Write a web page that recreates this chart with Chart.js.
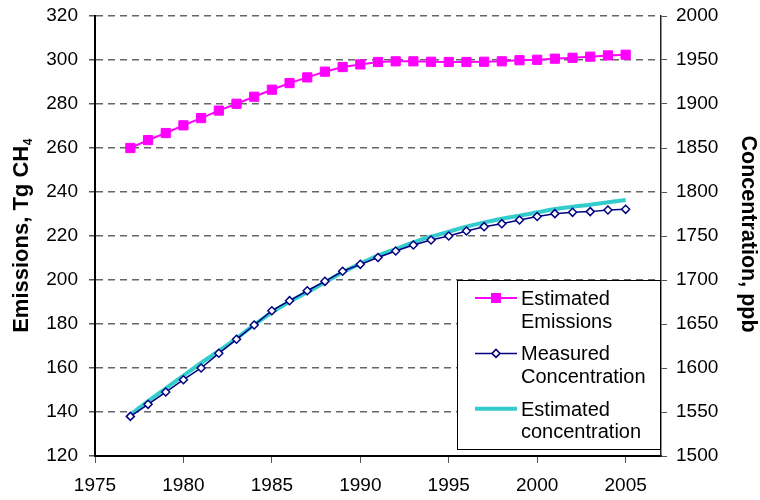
<!DOCTYPE html>
<html>
<head>
<meta charset="utf-8">
<script src="https://cdn.jsdelivr.net/npm/chart.js@4/dist/chart.umd.min.js"></script>
<style>
  html, body { margin: 0; padding: 0; background: #fff; }
  canvas { display: block; }
</style>
</head>
<body>
<canvas id="c" width="760" height="500"></canvas>
<script>
// Years with observations
const years = [1977, 1978, 1979, 1980, 1981, 1982, 1983, 1984, 1985, 1986,
               1987, 1988, 1989, 1990, 1991, 1992, 1993, 1994, 1995, 1996,
               1997, 1998, 1999, 2000, 2001, 2002, 2003, 2004, 2005];

// Tick labels on the year axis
const xTicks = [1975, 1980, 1985, 1990, 1995, 2000, 2005];

// Estimated emissions, Tg CH4 (left axis)
const emissions = [260.0, 263.6, 266.8, 270.3, 273.6, 277.0, 280.1, 283.3, 286.5, 289.5,
                   292.1, 294.7, 296.8, 298.0, 299.1, 299.4, 299.4, 299.2, 299.1, 299.1,
                   299.2, 299.4, 299.9, 300.1, 300.6, 301.0, 301.5, 302.1, 302.4];

// Measured concentration, ppb (right axis)
const measuredConc = [1545.0, 1558.7, 1572.7, 1586.7, 1600.0, 1616.7, 1632.6, 1648.9, 1665.1, 1676.5,
                      1687.8, 1698.5, 1709.9, 1717.8, 1725.6, 1733.0, 1739.8, 1745.5, 1750.0, 1755.7,
                      1760.6, 1764.0, 1768.2, 1772.2, 1775.4, 1776.9, 1777.7, 1779.5, 1780.3];

// Estimated concentration, ppb (right axis)
const estimatedConc = [1547.0, 1562.5, 1576.9, 1591.3, 1605.7, 1619.3, 1633.7, 1648.9, 1663.3, 1675.4,
                       1686.0, 1697.4, 1708.7, 1718.6, 1727.6, 1735.2, 1742.8, 1749.2, 1754.9, 1760.6,
                       1765.5, 1769.7, 1773.1, 1776.9, 1780.7, 1783.3, 1785.6, 1788.3, 1790.9];

// Text
const seriesNames = ['Estimated Emissions', 'Measured Concentration', 'Estimated concentration'];
const legendLines = [['Estimated', 'Emissions'], ['Measured', 'Concentration'], ['Estimated', 'concentration']];
const leftTitle = 'Emissions, Tg CH';
const leftTitleSub = '4';
const rightTitle = 'Concentration, ppb';

const FONT = '"Liberation Sans", Arial, Helvetica, sans-serif';
const MAGENTA = '#FF00FF';
const NAVY = '#000080';
const CYAN = '#33CCCC';

const toPoints = vals => years.map((yr, i) => ({ x: yr, y: vals[i] }));

// Axis titles and the boxed legend
const decorations = {
  id: 'decorations',
  afterDraw(chart) {
    const ctx = chart.ctx;
    const area = chart.chartArea;
    const midY = (area.top + area.bottom) / 2;

    // Left axis title with subscript
    ctx.save();
    ctx.fillStyle = '#000';
    const mainFont = 'bold 22px ' + FONT;
    const subFont = 'bold 12px ' + FONT;
    ctx.font = mainFont;
    const w1 = ctx.measureText(leftTitle).width;
    ctx.font = subFont;
    const w2 = ctx.measureText(leftTitleSub).width;
    ctx.translate(28, midY);
    ctx.rotate(-Math.PI / 2);
    ctx.textBaseline = 'alphabetic';
    ctx.textAlign = 'left';
    const start = -(w1 + w2) / 2;
    ctx.font = mainFont;
    ctx.fillText(leftTitle, start, 0);
    ctx.font = subFont;
    ctx.fillText(leftTitleSub, start + w1 + 0.5, 4);
    ctx.restore();

    // Right axis title, reading downward
    ctx.save();
    ctx.fillStyle = '#000';
    ctx.font = 'bold 21.5px ' + FONT;
    ctx.translate(742, midY - 2);
    ctx.rotate(Math.PI / 2);
    ctx.textAlign = 'center';
    ctx.textBaseline = 'alphabetic';
    ctx.fillText(rightTitle, 0, 0);
    ctx.restore();

    // Legend box
    const bx = 457.5, by = 280.5, bw = 203, bh = 169;
    ctx.save();
    ctx.fillStyle = '#fff';
    ctx.fillRect(bx, by, bw, bh);
    ctx.strokeStyle = '#000';
    ctx.lineWidth = 1;
    ctx.strokeRect(bx, by, bw, bh);

    const ds = chart.data.datasets;
    const lx1 = 475, lx2 = 517, mx = 496, tx = 521;
    ctx.font = '20px ' + FONT;
    ctx.textAlign = 'left';
    ctx.textBaseline = 'alphabetic';
    legendLines.forEach((lines, i) => {
      const base = 305 + i * 55.4;
      const ly = base - 7;
      const d = ds[i];
      ctx.strokeStyle = d.borderColor;
      ctx.lineWidth = d.borderWidth;
      ctx.beginPath();
      ctx.moveTo(lx1, ly);
      ctx.lineTo(lx2, ly);
      ctx.stroke();
      if (d.pointStyle === 'rect') {
        ctx.fillStyle = d.pointBackgroundColor;
        ctx.fillRect(mx - 5, ly - 5, 10, 10);
      } else if (d.pointStyle === 'rectRot') {
        ctx.fillStyle = d.pointBackgroundColor;
        ctx.strokeStyle = d.pointBorderColor;
        ctx.lineWidth = d.pointBorderWidth;
        ctx.beginPath();
        ctx.moveTo(mx - 4, ly);
        ctx.lineTo(mx, ly - 4);
        ctx.lineTo(mx + 4, ly);
        ctx.lineTo(mx, ly + 4);
        ctx.closePath();
        ctx.fill();
        ctx.stroke();
      }
      ctx.fillStyle = '#000';
      lines.forEach((t, j) => ctx.fillText(t, tx, base + j * 22.5));
    });
    ctx.restore();
  }
};

const tickFont = { family: FONT, size: 19 };
const noScalePadding = s => { s.paddingTop = 0; s.paddingBottom = 0; };

new Chart(document.getElementById('c'), {
  type: 'line',
  data: {
    datasets: [
      {
        label: seriesNames[0],
        data: toPoints(emissions),
        yAxisID: 'y',
        borderColor: MAGENTA,
        borderWidth: 2,
        pointStyle: 'rect',
        pointRadius: 6.5,
        pointBackgroundColor: MAGENTA,
        pointBorderColor: MAGENTA,
        pointBorderWidth: 1,
        tension: 0
      },
      {
        label: seriesNames[1],
        data: toPoints(measuredConc),
        yAxisID: 'y2',
        borderColor: NAVY,
        borderWidth: 1.5,
        pointStyle: 'rectRot',
        pointRadius: 4,
        pointBackgroundColor: '#fff',
        pointBorderColor: NAVY,
        pointBorderWidth: 1.5,
        tension: 0
      },
      {
        label: seriesNames[2],
        data: toPoints(estimatedConc),
        yAxisID: 'y2',
        borderColor: CYAN,
        borderWidth: 4,
        pointRadius: 0,
        cubicInterpolationMode: 'monotone',
        tension: 0.4
      }
    ]
  },
  options: {
    responsive: false,
    animation: false,
    layout: { padding: { top: 16, left: 0, right: 0, bottom: 0 } },
    plugins: { legend: { display: false }, tooltip: { enabled: false } },
    scales: {
      x: {
        type: 'linear',
        min: 1975,
        max: 2007,
        afterBuildTicks: s => { s.ticks = xTicks.map(v => ({ value: v })); },
        afterFit: s => { s.height = 44; s.paddingLeft = 0; s.paddingRight = 0; },
        grid: { drawOnChartArea: false, drawTicks: true, tickLength: 7, tickColor: '#555' },
        border: { display: true, color: '#000', width: 2 },
        ticks: {
          font: tickFont, color: '#000', padding: 11,
          autoSkip: false, maxRotation: 0,
          callback: v => String(v)
        }
      },
      y: {
        position: 'left',
        min: 120,
        max: 320,
        afterFit: s => { s.width = 95; noScalePadding(s); },
        grid: { color: '#666', lineWidth: 1.5, drawTicks: true, tickLength: 6, tickColor: '#555' },
        border: { display: true, color: '#000', width: 2, dash: [7, 5] },
        ticks: { stepSize: 20, font: tickFont, color: '#000', padding: 11, callback: v => String(v) }
      },
      y2: {
        position: 'right',
        min: 1500,
        max: 2000,
        afterFit: s => { s.width = 99; noScalePadding(s); },
        grid: { drawOnChartArea: false, drawTicks: true, tickLength: 6, tickColor: '#555' },
        border: { display: true, color: '#222', width: 1.5 },
        ticks: { stepSize: 50, font: tickFont, color: '#000', padding: 9, callback: v => String(v) }
      }
    }
  },
  plugins: [decorations]
});
</script>
</body>
</html>
